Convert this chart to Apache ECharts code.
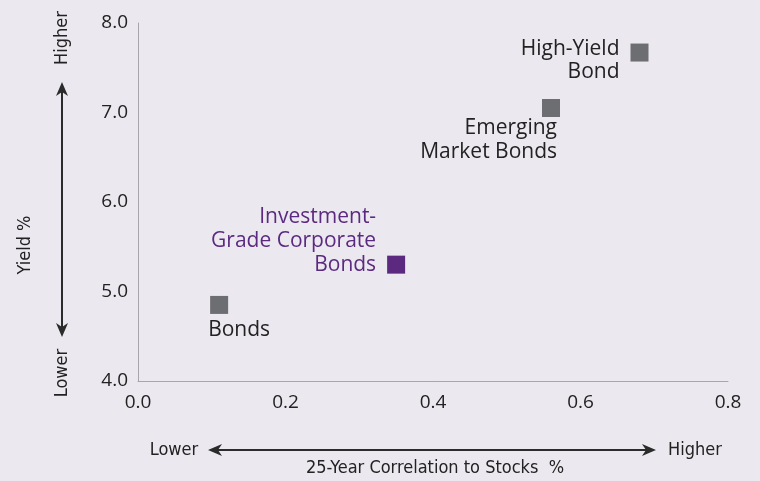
<!DOCTYPE html>
<html>
<head>
<meta charset="utf-8">
<script src="https://cdn.jsdelivr.net/npm/echarts@6/dist/echarts.min.js"></script>
<style>
  html, body { margin: 0; padding: 0; background: #ece8ef; }
  #chart { width: 760px; height: 481px; }
</style>
</head>
<body>
<div id="chart"></div>
<script>
// 数据
var names = ['Bonds', 'Investment-\nGrade Corporate\nBonds', 'Emerging\nMarket Bonds', 'High-Yield\nBond'];
var correlation = [0.11, 0.35, 0.56, 0.68]; // 25年股票相关性
var yields = [4.85, 5.3, 7.05, 7.67]; // 收益率 %
var xTicks = [0.0, 0.2, 0.4, 0.6, 0.8];
var yTicks = [4.0, 5.0, 6.0, 7.0, 8.0];

var gray = '#6d6e71';
var purple = '#5b2a80';
var textColor = '#222222';
var narrow = '"Liberation Sans Narrow", "DejaVu Sans Condensed", sans-serif';

// 每个点的标签位置
var labelCfg = [
    { position: [-2, 22], align: 'left', lineHeight: 24, color: textColor },
    { position: [-11, -51], align: 'right', lineHeight: 24, color: purple },
    { position: [15, 17], align: 'right', lineHeight: 24, color: textColor },
    { position: [-11, -6], align: 'right', lineHeight: 23, color: textColor }
];
var pointColors = [gray, purple, gray, gray];

var seriesData = names.map(function(n, i) {
    return {
        name: n,
        value: [correlation[i], yields[i]],
        itemStyle: { color: pointColors[i], opacity: 1 },
        label: {
            show: true,
            formatter: n,
            position: labelCfg[i].position,
            align: labelCfg[i].align,
            verticalAlign: 'top',
            lineHeight: labelCfg[i].lineHeight,
            color: labelCfg[i].color,
            opacity: 1,
            fontSize: 21,
            fontFamily: '"Open Sans", sans-serif'
        }
    };
});

var chart = echarts.init(document.getElementById('chart'));

// 箭头
function arrowHead(x, y, dir) {
    var pts;
    if (dir === 'up') pts = [[x, y], [x - 6, y + 14], [x, y + 10], [x + 6, y + 14]];
    if (dir === 'down') pts = [[x, y], [x - 6, y - 14], [x, y - 10], [x + 6, y - 14]];
    if (dir === 'left') pts = [[x, y], [x + 14, y - 6], [x + 10, y], [x + 14, y + 6]];
    if (dir === 'right') pts = [[x, y], [x - 14, y - 6], [x - 10, y], [x - 14, y + 6]];
    return { type: 'polygon', shape: { points: pts }, style: { fill: '#2b2b2b' } };
}

chart.setOption({
    backgroundColor: '#ece8ef',
    animation: false,
    grid: { left: 138, right: 32, top: 23, bottom: 100, outerBoundsMode: 'none' },
    xAxis: {
        type: 'value',
        min: xTicks[0],
        max: xTicks[xTicks.length - 1],
        interval: 0.2,
        axisLine: { show: true, lineStyle: { color: '#a8a6ab', width: 1 } },
        axisTick: { show: false },
        splitLine: { show: false },
        axisLabel: {
            color: textColor, fontSize: 19, margin: 12,
            fontFamily: '"Open Sans", sans-serif',
            formatter: function(v) { return v.toFixed(1); }
        }
    },
    yAxis: {
        type: 'value',
        min: yTicks[0],
        max: yTicks[yTicks.length - 1],
        interval: 1,
        axisLine: { show: true, lineStyle: { color: '#a8a6ab', width: 1 } },
        axisTick: { show: false },
        splitLine: { show: false },
        axisLabel: {
            color: textColor, fontSize: 19, margin: 10,
            fontFamily: '"Open Sans", sans-serif',
            formatter: function(v) { return v.toFixed(1); }
        }
    },
    series: [{
        type: 'scatter',
        symbol: 'rect',
        symbolSize: 18,
        itemStyle: { opacity: 1 },
        data: seriesData
    }],
    graphic: [
        // 纵轴说明
        { type: 'line', shape: { x1: 62, y1: 90, x2: 62, y2: 329 }, style: { stroke: '#2b2b2b', lineWidth: 2 } },
        arrowHead(62, 82, 'up'),
        arrowHead(62, 337, 'down'),
        { type: 'text', x: 62, y: 38, rotation: Math.PI / 2,
          style: { text: 'Higher', fill: textColor, font: '18px ' + narrow, align: 'center', verticalAlign: 'middle' } },
        { type: 'text', x: 62, y: 373, rotation: Math.PI / 2,
          style: { text: 'Lower', fill: textColor, font: '18px ' + narrow, align: 'center', verticalAlign: 'middle' } },
        { type: 'text', x: 25, y: 245, rotation: Math.PI / 2,
          style: { text: 'Yield %', fill: textColor, font: '18px ' + narrow, align: 'center', verticalAlign: 'middle' } },
        // 横轴说明
        { type: 'line', shape: { x1: 216, y1: 450, x2: 648, y2: 450 }, style: { stroke: '#2b2b2b', lineWidth: 2 } },
        arrowHead(208, 450, 'left'),
        arrowHead(656, 450, 'right'),
        { type: 'text', x: 174, y: 450,
          style: { text: 'Lower', fill: textColor, font: '18px ' + narrow, align: 'center', verticalAlign: 'middle' } },
        { type: 'text', x: 695, y: 450,
          style: { text: 'Higher', fill: textColor, font: '18px ' + narrow, align: 'center', verticalAlign: 'middle' } },
        { type: 'text', x: 435, y: 468,
          style: { text: '25-Year Correlation to Stocks  %', fill: textColor, font: '18px ' + narrow, align: 'center', verticalAlign: 'middle' } }
    ]
});
</script>
</body>
</html>
